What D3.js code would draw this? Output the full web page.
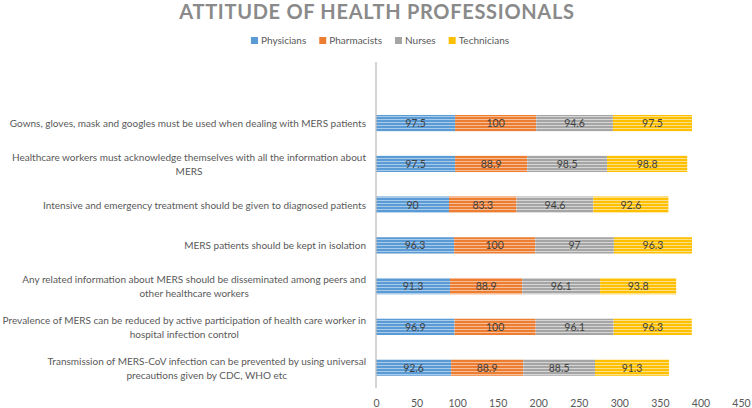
<!DOCTYPE html>
<html><head><meta charset="utf-8">
<script src="https://cdn.jsdelivr.net/npm/d3@7"></script>
<style>body{margin:0;background:#fff;} svg{display:block;font-family:Lato,"Open Sans",sans-serif;}</style>
</head><body>
<svg id="c" width="752" height="408"></svg>
<script>
const categories = [
  ["Gowns, gloves, mask and googles must be used when dealing with MERS patients"],
  ["Healthcare workers must acknowledge themselves with all the information about", "MERS"],
  ["Intensive and emergency treatment should be given to diagnosed patients"],
  ["MERS patients should be kept in isolation"],
  ["Any related information about MERS should be disseminated among peers and", "other healthcare workers"],
  ["Prevalence of MERS can be reduced by active participation of health care worker in", "hospital infection control"],
  ["Transmission of MERS-CoV infection can be prevented by using universal", "precautions given by CDC, WHO etc"]
];
const seriesNames = ["Physicians", "Pharmacists", "Nurses", "Technicians"];
const physicians  = [97.5, 97.5, 90, 96.3, 91.3, 96.9, 92.6];
const pharmacists = [100, 88.9, 83.3, 100, 88.9, 100, 88.9];
const nurses      = [94.6, 98.5, 94.6, 97, 96.1, 96.1, 88.5];
const technicians = [97.5, 98.8, 92.6, 96.3, 93.8, 96.3, 91.3];
const xTicks = [0, 50, 100, 150, 200, 250, 300, 350, 400, 450];
const title = "ATTITUDE OF HEALTH PROFESSIONALS";

const colors = ["#5B9BD5", "#ED7D31", "#A5A5A5", "#FFC000"];
const stripe = ["#A9CBEA", "#F6BE98", "#D6D6D6", "#FFE08A"];

const svg = d3.select("#c");
const defs = svg.append("defs");
colors.forEach((c, i) => {
  const p = defs.append("pattern").attr("id", "pat" + i).attr("patternUnits", "userSpaceOnUse")
    .attr("width", 6).attr("height", 3);
  p.append("rect").attr("width", 6).attr("height", 3).attr("fill", c);
  p.append("rect").attr("y", 2).attr("width", 6).attr("height", 1).attr("fill", stripe[i]);
});

const keys = categories.map((d, i) => "c" + i);
const x = d3.scaleLinear().domain([0, 450]).range([376, 741]);
const y = d3.scaleBand().domain(["blank", ...keys]).range([62, 388]).paddingInner(0.6).paddingOuter(0.3);

// title
svg.append("text").attr("x", 377).attr("y", 19).attr("text-anchor", "middle")
  .attr("font-size", 20).attr("font-weight", "bold").attr("fill", "#8A8A8A")
  .attr("letter-spacing", 0.7).text(title);

// legend
const lg = svg.append("g").attr("font-size", 10).attr("fill", "#595959");
let lx = 0;
seriesNames.forEach((n, i) => {
  const g = lg.append("g").attr("transform", `translate(${lx},0)`);
  g.append("rect").attr("x", 0).attr("y", -7).attr("width", 7).attr("height", 7).attr("fill", colors[i]);
  const t = g.append("text").attr("x", 10).attr("y", 0).text(n);
  lx += 10 + t.node().getComputedTextLength() + 13;
});
const lw = lx - 13;
lg.attr("transform", `translate(${380 - lw / 2},44)`);

// bars
const series = [physicians, pharmacists, nurses, technicians];
const stack = keys.map((k, ci) => {
  let acc = 0;
  return series.map((s, si) => { const d = {k, si, v: s[ci], x0: acc, x1: acc + s[ci]}; acc += s[ci]; return d; });
}).flat();

svg.append("g").selectAll("rect").data(stack).join("rect")
  .attr("x", d => x(d.x0)).attr("width", d => x(d.x1) - x(d.x0))
  .attr("y", d => y(d.k)).attr("height", y.bandwidth())
  .attr("fill", d => `url(#pat${d.si})`);

svg.append("g").attr("font-size", 10.5).attr("fill", "#404040").attr("text-anchor", "middle")
  .selectAll("text").data(stack).join("text")
  .attr("x", d => (x(d.x0) + x(d.x1)) / 2).attr("y", d => y(d.k) + y.bandwidth() / 2 + 4)
  .text(d => d.v);

// vertical axis line
svg.append("line").attr("x1", x(0)).attr("x2", x(0)).attr("y1", y.range()[0]).attr("y2", y.range()[1])
  .attr("stroke", "#BFBFBF").attr("stroke-width", 1.3);

// category labels
const lab = svg.append("g").attr("font-size", 10).attr("fill", "#595959");
categories.forEach((lines, i) => {
  const cy = y(keys[i]) + y.bandwidth() / 2;
  const g = lab.append("g");
  const ts = lines.map((l, j) => g.append("text").attr("text-anchor", "middle")
    .attr("y", cy + 4 + (j - (lines.length - 1) / 2) * 14).text(l));
  const w = d3.max(ts, t => t.node().getComputedTextLength());
  ts.forEach(t => t.attr("x", 366 - w / 2));
});

// x axis
const ax = svg.append("g").attr("transform", "translate(0,400)")
  .call(d3.axisBottom(x).tickValues(xTicks).tickSize(0).tickPadding(0));
ax.select(".domain").remove();
ax.selectAll("text").attr("font-size", 10.5).attr("fill", "#595959").attr("font-family", "Lato,'Open Sans',sans-serif");
</script>
</body></html>
